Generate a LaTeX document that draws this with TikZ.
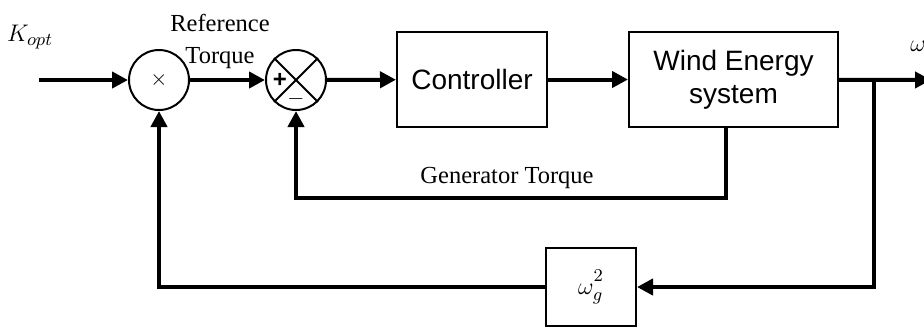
\documentclass[tikz,border=0pt]{standalone}
\usepackage{amsmath}
\usepackage{fontspec}
\setmainfont{Liberation Serif}
\setsansfont{Liberation Sans}
\usepackage{tikz}
\usetikzlibrary{arrows.meta}

\tikzset{
  signal/.style={line width=2pt, -{Triangle[length=8pt,width=8pt]}},
  block/.style={draw, line width=1pt, align=center,
    font=\sffamily\fontsize{14}{16.5}\selectfont},
  junction/.style={draw, circle, line width=1pt, minimum size=30pt, inner sep=0pt},
  label/.style={font=\fontsize{12.25}{16}\selectfont, align=center}
}

\begin{document}
\begin{tikzpicture}[x=0.5pt,y=-0.5pt]

  % Page frame, in pixels of the reference
  \useasboundingbox (0,0) rectangle (924,328);

  %%%%%%%%%%%%%%%%%%%%%%%%%%%%%%%%%%%%%%%%%%%%%%%%%%%%%%%%%%%%%%%%%%%%%%%%%%%%5
  %% Blocks and junctions
  %%%%%%%%%%%%%%%%%%%%%%%%%%%%%%%%%%%%%%%%%%%%%%%%%%%%%%%%%%%%%%%%%%%%%%%%%%%%5

  % Multiplier
  \node [junction, font=\fontsize{11}{11}\selectfont] (mult) at (159,80) {$\times$};

  % Summing junction with its cross
  \node [junction] (sum) at (296,80) {};
  \draw [line width=1pt] (sum.north west) -- (sum.south east);
  \draw [line width=1pt] (sum.north east) -- (sum.south west);
  \node [font=\sffamily\bfseries\fontsize{12}{12}\selectfont, inner sep=0pt] (plus)
    at ([xshift=-8pt]sum.center) {+};
  \node [font=\sffamily\bfseries\fontsize{11}{11}\selectfont, inner sep=0pt] (minus)
    at ([yshift=-9.5pt]sum.center) {$-$};

  % The two main blocks
  \node [block, minimum width=75pt, minimum height=47.5pt] (ctrl) at (472,79.5) {Controller};
  \node [block, minimum width=104.5pt, minimum height=47.5pt] (wind) at (733.5,79.5) {Wind Energy\\system};

  % Square of the speed
  \node [block, font=\fontsize{13}{15}\selectfont, minimum width=45pt, minimum height=39pt] (square)
    at (591,287) {$\omega^{\raisebox{2pt}{$\scriptstyle 2$}}_{g}$};

  %%%%%%%%%%%%%%%%%%%%%%%%%%%%%%%%%%%%%%%%%%%%%%%%%%%%%%%%%%%%%%%%%%%%%%%%%%%%5
  %% Signals
  %%%%%%%%%%%%%%%%%%%%%%%%%%%%%%%%%%%%%%%%%%%%%%%%%%%%%%%%%%%%%%%%%%%%%%%%%%%%5

  \coordinate (in)     at (39,80);
  \coordinate (out)    at (931,80);
  \coordinate (branch) at (874,80);
  \coordinate (gen)    at (726,198);

  % Forward path
  \draw [signal] (in) -- (mult);
  \draw [signal] (mult) -- (sum);
  \draw [signal] (sum) -- (ctrl);
  \draw [signal] (ctrl) -- (wind);
  \draw [signal] (wind) -- (out);

  % Torque feedback
  \draw [signal] (gen |- wind.south) -- (gen) -| (sum.south);

  % Speed feedback
  \draw [signal] (branch) |- (square.east);
  \draw [signal] (square.west) -| (mult.south);

  %%%%%%%%%%%%%%%%%%%%%%%%%%%%%%%%%%%%%%%%%%%%%%%%%%%%%%%%%%%%%%%%%%%%%%%%%%%%5
  %% Labels
  %%%%%%%%%%%%%%%%%%%%%%%%%%%%%%%%%%%%%%%%%%%%%%%%%%%%%%%%%%%%%%%%%%%%%%%%%%%%5

  \node [label, font=\fontsize{13}{15}\selectfont] (kopt) at (30,37) {$K_{opt}$};
  \node [label] (ref)   at (220,41)  {Reference\\Torque};
  \node [label] (gtq)   at (507,178) {Generator Torque};
  \node [label, font=\fontsize{13}{15}\selectfont] (omega) at (918,46) {$\omega$};

\end{tikzpicture}
\end{document}
